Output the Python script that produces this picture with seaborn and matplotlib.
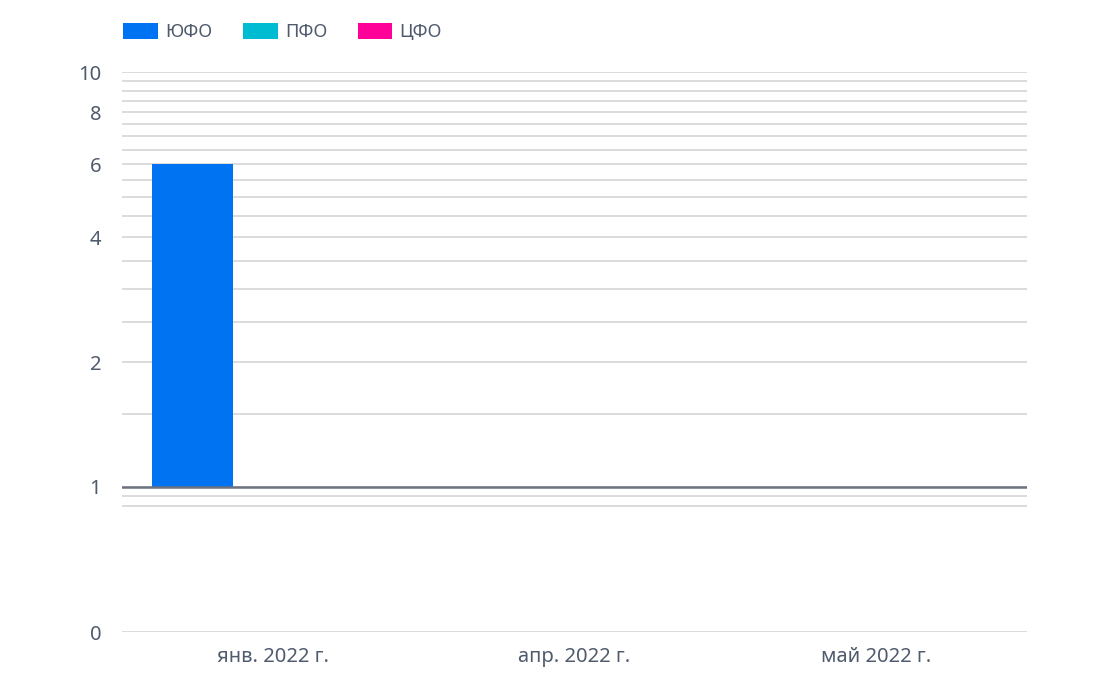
import numpy as np
import pandas as pd
import matplotlib
matplotlib.use("Agg")
import matplotlib.pyplot as plt
from matplotlib.patches import Patch
import seaborn as sns

months = ["янв. 2022 г.", "апр. 2022 г.", "май 2022 г."]
regions = ["ЮФО", "ПФО", "ЦФО"]
yufo = [6, 1, 1]
pfo = [1, 1, 1]
cfo = [1, 1, 1]
colors = ["#0073F3", "#00BCD2", "#FF0099"]
major_ticks = [0, 1, 2, 4, 6, 8, 10]
minor_ticks = [0.9, 0.95, 1.5, 2.5, 3, 3.5, 4.5, 5, 5.5, 6.5, 7, 7.5, 8.5, 9, 9.5]
baseline = 1

rows = []
for reg, vals in zip(regions, [yufo, pfo, cfo]):
    for m, v in zip(months, vals):
        rows.append({"month": m, "region": reg, "value": v, "height": v - baseline})
df = pd.DataFrame(rows)

sns.set_theme(style="white")
plt.rcParams["font.family"] = ["Noto Sans", "DejaVu Sans"]
text_color = "#4F5B6D"

fig = plt.figure(figsize=(11.1, 6.79), dpi=100)
ax = fig.add_axes([122 / 1110, 47 / 679, 905 / 1110, 560 / 679])

sns.barplot(data=df, x="month", y="height", hue="region", order=months,
            hue_order=regions, palette=colors, width=0.8, bottom=baseline,
            saturation=1, errorbar=None, legend=False, ax=ax, linewidth=0,
            zorder=3)

# log above 1 with compressed linear part near zero
T = 0.9
K = (145 / 415 + np.log10(T)) / T


def fwd(y):
    y = np.asarray(y, dtype=float)
    return np.where(y >= T, np.log10(np.clip(y, T, None)), np.log10(T) - (T - y) * K)


def inv(u):
    u = np.asarray(u, dtype=float)
    lt = np.log10(T)
    return np.where(u >= lt, 10 ** np.clip(u, lt, None), T - (lt - u) / K)


ax.set_yscale("function", functions=(fwd, inv))
ax.set_ylim(0, 10)
ax.set_xlim(-0.5, 2.5)
ax.set_yticks(major_ticks)
ax.set_yticklabels([str(t) for t in major_ticks])
ax.set_yticks(minor_ticks, minor=True)
ax.yaxis.set_minor_formatter(plt.NullFormatter())

ax.grid(True, axis="y", which="both", color="#D9D9D9", linewidth=1.3, zorder=0)
ax.grid(False, axis="x")
ax.set_axisbelow(True)
ax.axhline(baseline, color="#6B7280", linewidth=1.8, zorder=4)

for s in ax.spines.values():
    s.set_visible(False)

ax.tick_params(axis="y", which="both", length=0, pad=15, labelsize=14.5, labelcolor=text_color)
ax.tick_params(axis="x", length=0, pad=11, labelsize=14.5, labelcolor=text_color)
ax.set_xlabel("")
ax.set_ylabel("")

handles = [Patch(facecolor=c, edgecolor="none", label=r) for c, r in zip(colors, regions)]
fig.legend(handles=handles, loc="upper left", bbox_to_anchor=(116 / 1110, 1 - 16 / 679),
           ncol=3, frameon=False, fontsize=13.2, labelcolor=text_color,
           handlelength=1.9, handleheight=0.92, handletextpad=0.4,
           columnspacing=1.65, borderaxespad=0)

fig.savefig("out.png", dpi=100, facecolor="white")
